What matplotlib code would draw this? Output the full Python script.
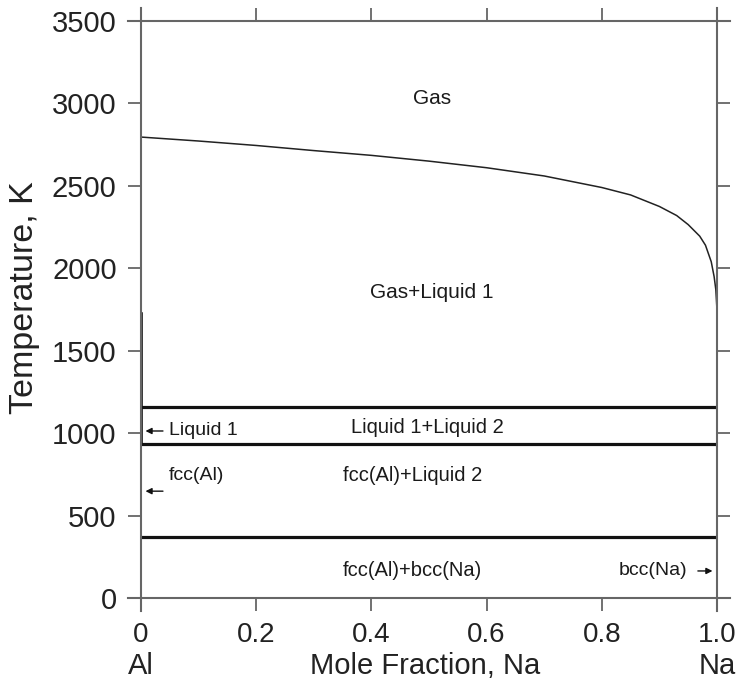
import matplotlib.pyplot as plt
from matplotlib.lines import Line2D

plt.rcParams['font.family'] = ['Liberation Sans', 'DejaVu Sans']

# gas / liquid boundary
gas_x = [0.0, 0.1, 0.2, 0.3, 0.4, 0.5, 0.6, 0.7, 0.8, 0.85, 0.9, 0.93, 0.95,
         0.97, 0.98, 0.99, 0.995, 0.998, 1.0]
gas_T = [2796, 2772, 2745, 2714, 2685, 2650, 2610, 2560, 2490, 2445, 2375, 2320, 2265,
         2195, 2140, 2040, 1950, 1870, 1747]

# Al-side liquid boundary (near x = 0)
liq1_x = [0.0015, 0.0015]
liq1_T = [1730, 933]

# invariant temperatures
iso_T = [1157, 933, 371]

yticks = [0, 500, 1000, 1500, 2000, 2500, 3000, 3500]
xticks = [0, 0.2, 0.4, 0.6, 0.8, 1.0]
xticklabels = ['0', '0.2', '0.4', '0.6', '0.8', '1.0']

regions = [
    ('Gas', 0.505, 3032, 15),
    ('Gas+Liquid 1', 0.505, 1856, 15),
    ('Liquid 1+Liquid 2', 0.497, 1037, 14.5),
    ('fcc(Al)+Liquid 2', 0.472, 746, 14.5),
    ('fcc(Al)+bcc(Na)', 0.472, 164, 14.5),
]

spine_c = '#666666'
text_c = '#1a1a1a'

fig = plt.figure(figsize=(7.4, 6.91), dpi=100)
ax = fig.add_axes([0.1905, 0.1346, 0.7784, 0.835])

ax.plot(gas_x, gas_T, color='#222222', lw=1.1)
ax.plot(liq1_x, liq1_T, color='black', lw=1.1)
for t in iso_T:
    ax.plot([0, 1], [t, t], color='#111111', lw=2.3, solid_capstyle='butt')

for txt, x, y, fs in regions:
    ax.text(x, y, txt, ha='center', va='center', fontsize=fs, color=text_c)

# small labels with arrows
arrow = dict(arrowstyle='-|>', color='#111111', lw=1, mutation_scale=9)
ax.annotate('', xy=(0.003, 1013), xytext=(0.043, 1013), arrowprops=arrow)
ax.text(0.049, 1013, 'Liquid 1', ha='left', va='center', fontsize=14, color=text_c)
ax.text(0.049, 746, 'fcc(Al)', ha='left', va='center', fontsize=14, color=text_c)
ax.annotate('', xy=(0.003, 648), xytext=(0.043, 648), arrowprops=arrow)
ax.text(0.948, 164, 'bcc(Na)', ha='right', va='center', fontsize=14, color=text_c)
ax.annotate('', xy=(0.997, 164), xytext=(0.962, 164), arrowprops=arrow)

ax.set_xlim(0, 1)
ax.set_ylim(0, 3500)
ax.set_xticks(xticks)
ax.set_xticklabels(xticklabels)
ax.set_yticks(yticks)
ax.tick_params(direction='out', length=9.5, width=1.3, color=spine_c,
               labelsize=21, pad=8, labelcolor='#222222',
               top=True, right=True, labeltop=False, labelright=False)
ax.tick_params(axis='x', labelsize=20)

for s in ax.spines.values():
    s.set_visible(False)

# crossing frame lines that run past the corners
ex, ey = 0.0226, 0.0225
frame = [
    ([-ex, 1 + ex], [0, 0]),
    ([-ex, 1 + ex], [1, 1]),
    ([0, 0], [-ey, 1 + ey]),
    ([1, 1], [-ey, 1 + ey]),
]
for fx, fy in frame:
    ax.add_line(Line2D(fx, fy, transform=ax.transAxes, color=spine_c, lw=1.5, clip_on=False))

ax.set_ylabel('Temperature, K', fontsize=24.5, color='#222222', va='center')
ax.yaxis.set_label_coords(-0.203, 0.52)

ylab = -0.118
ax.text(0.494, ylab, 'Mole Fraction, Na', transform=ax.transAxes, ha='center', va='center',
        fontsize=21, color='#222222')
ax.text(0.0, ylab, 'Al', transform=ax.transAxes, ha='center', va='center',
        fontsize=21, color='#222222')
ax.text(1.0, ylab, 'Na', transform=ax.transAxes, ha='center', va='center',
        fontsize=21, color='#222222')

fig.savefig('out.png', dpi=100)
